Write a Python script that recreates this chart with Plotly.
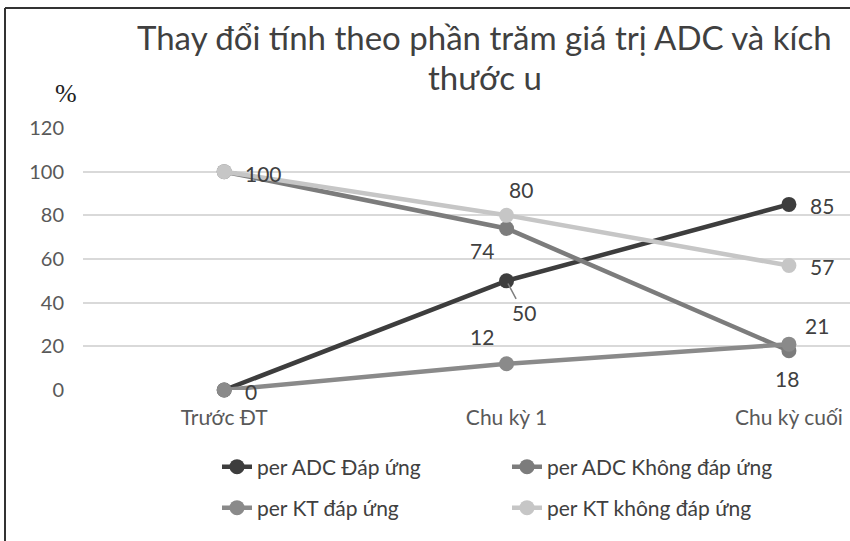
import plotly.graph_objects as go

categories = ["Trước ĐT", "Chu kỳ 1", "Chu kỳ cuối"]
series_names = [
    "per ADC Đáp ứng",
    "per ADC Không đáp ứng",
    "per KT đáp ứng",
    "per KT không đáp ứng",
]
adc_dap_ung = [0, 50, 85]
adc_khong_dap_ung = [100, 74, 18]
kt_dap_ung = [0, 12, 21]
kt_khong_dap_ung = [100, 80, 57]
y_ticks = [0, 20, 40, 60, 80, 100, 120]

series_values = [adc_dap_ung, adc_khong_dap_ung, kt_dap_ung, kt_khong_dap_ung]
colors = ["#3d3d3d", "#7c7c7c", "#8a8a8a", "#c6c6c6"]
legend_ids = ["legend", "legend", "legend2", "legend2"]

FONT = "Lato"
TEXT = "#404040"

fig = go.Figure()
for name, vals, col, lg in zip(series_names, series_values, colors, legend_ids):
    fig.add_trace(go.Scatter(
        x=categories, y=vals, name=name, mode="lines+markers",
        line=dict(color=col, width=4.5),
        marker=dict(color=col, size=15),
        cliponaxis=False, legend=lg,
    ))

# value labels: (series index, point index, x offset, y offset)
label_offsets = [
    (0, 0, 27, -1), (0, 2, 33, -1),
    (1, 0, 39, -2), (1, 1, -25, -22), (1, 2, -2, -28),
    (2, 1, -25, 27), (2, 2, 28, 19),
    (3, 1, 14, 26), (3, 2, 33, -1),
]
annotations = []
for si, pi, dx, dy in label_offsets:
    annotations.append(dict(
        x=categories[pi], y=series_values[si][pi], xref="x", yref="y",
        text=str(series_values[si][pi]), showarrow=False,
        xanchor="center", yanchor="middle",
        xshift=dx, yshift=dy, font=dict(family=FONT, size=21, color=TEXT),
    ))
# label with leader line
annotations.append(dict(
    x=categories[1], y=adc_dap_ung[1], xref="x", yref="y",
    text=str(adc_dap_ung[1]), showarrow=True, arrowhead=0, arrowwidth=1.5,
    arrowcolor="#7f7f7f", ax=17, ay=32, standoff=3,
    font=dict(family=FONT, size=21, color=TEXT),
))

# title lines and axis unit
annotations += [
    dict(text="Thay đổi tính theo phần trăm giá trị ADC và kích", xref="paper", yref="paper",
         x=(485 - 83) / 767, y=(390 - 37) / 262, showarrow=False,
         xanchor="center", yanchor="middle",
         font=dict(family=FONT, size=33, color=TEXT)),
    dict(text="thước u", xref="paper", yref="paper",
         x=(485 - 83) / 767, y=(390 - 77) / 262, showarrow=False,
         xanchor="center", yanchor="middle",
         font=dict(family=FONT, size=33, color=TEXT)),
    dict(text="%", xref="paper", yref="paper",
         x=(66 - 83) / 767, y=(390 - 94) / 262, showarrow=False,
         xanchor="center", yanchor="middle",
         font=dict(family="Liberation Serif", size=26, color="#222222")),
]

legend_style = dict(
    orientation="h", xanchor="left", yanchor="middle",
    entrywidth=245, entrywidthmode="pixels",
    font=dict(family=FONT, size=21, color=TEXT), bgcolor="rgba(0,0,0,0)",
)

fig.update_layout(
    width=850, height=541,
    margin=dict(l=83, r=0, t=128, b=151),
    paper_bgcolor="white", plot_bgcolor="white",
    font=dict(family=FONT, color=TEXT),
    annotations=annotations,
    legend=dict(legend_style, x=(217 - 83) / 767, y=(390 - 467) / 262),
    legend2=dict(legend_style, x=(217 - 83) / 767, y=(390 - 508) / 262),
    shapes=[
        dict(type="line", xref="paper", yref="paper", x0=(5 - 83) / 767, x1=(851 - 83) / 767,
             y0=(390 - 8) / 262, y1=(390 - 8) / 262, line=dict(color="#333333", width=2)),
        dict(type="line", xref="paper", yref="paper", x0=(5 - 83) / 767, x1=(5 - 83) / 767,
             y0=(390 - 8) / 262, y1=(390 - 545) / 262, line=dict(color="#333333", width=2)),
    ],
)
fig.update_xaxes(
    type="category", range=[-0.5, (850 - 225) / 282], showgrid=False,
    showline=False, zeroline=False, ticks="", ticklabelstandoff=13,
    tickfont=dict(family=FONT, size=21, color="#595959"),
)
fig.update_yaxes(
    range=[0, 120], tickvals=y_ticks, showgrid=True, gridcolor="#d9d9d9", gridwidth=1.5,
    zeroline=False, showline=False, ticks="", ticklabelstandoff=18,
    tickfont=dict(family=FONT, size=20, color="#595959"),
)

fig.write_html("out.html")
